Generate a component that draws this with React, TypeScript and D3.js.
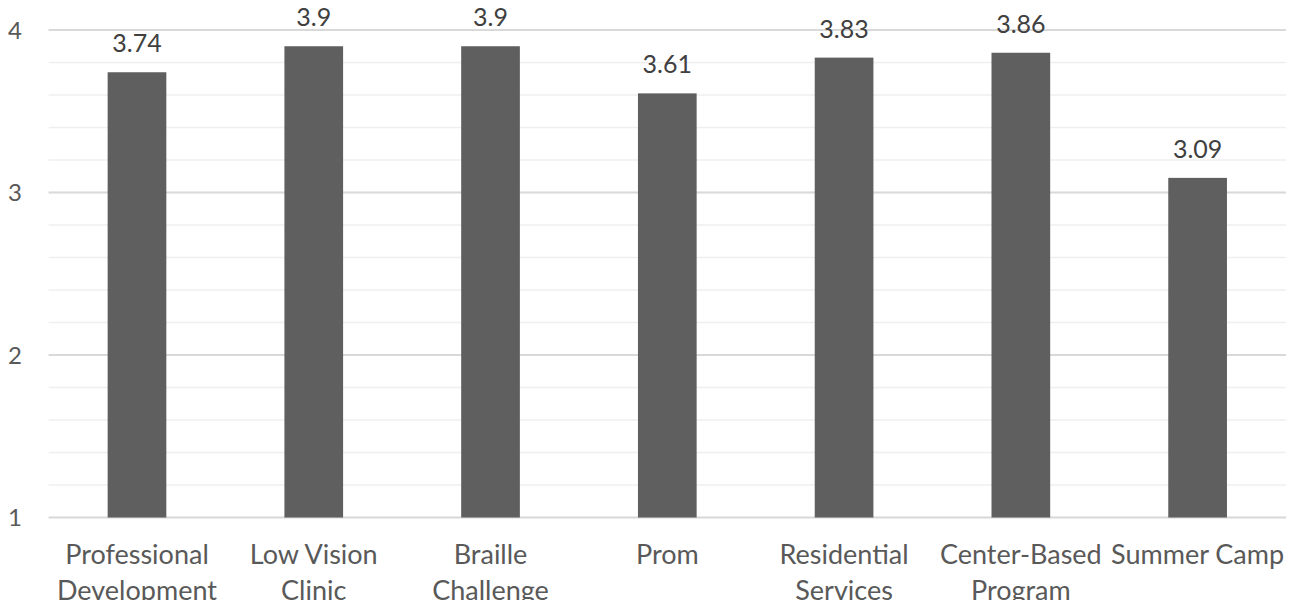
import React from "react";
import * as d3 from "d3";

const categories: string[][] = [
  ["Professional", "Development"],
  ["Low Vision", "Clinic"],
  ["Braille", "Challenge"],
  ["Prom"],
  ["Residential", "Services"],
  ["Center-Based", "Program"],
  ["Summer Camp"],
];
const values: number[] = [3.74, 3.9, 3.9, 3.61, 3.83, 3.86, 3.09];
const majorTicks: number[] = [1, 2, 3, 4];
const minorTicks: number[] = d3.range(1, 4.0001, 0.2);

export default function App() {
  const W = 1292;
  const H = 600;
  const left = 48.6;
  const right = 1286;
  const top = 30;
  const bottom = 517.5;
  const x = d3
    .scaleBand<number>()
    .domain(values.map((_, i) => i))
    .range([left, right])
    .paddingInner(0.668)
    .paddingOuter(0.334);
  const y = d3.scaleLinear().domain([1, 4]).range([bottom, top]);
  const font = "Lato, 'Open Sans', sans-serif";
  return (
    <svg
      width={W}
      height={H}
      style={{ position: "absolute", left: 0, top: 0, background: "#fff" }}
    >
      {minorTicks.map((t, i) => (
        <line
          key={"m" + i}
          x1={left}
          x2={right}
          y1={y(t)}
          y2={y(t)}
          stroke="#efefef"
          strokeWidth={1.5}
        />
      ))}
      {majorTicks.map((t) => (
        <line
          key={"M" + t}
          x1={left}
          x2={right}
          y1={y(t)}
          y2={y(t)}
          stroke="#d9d9d9"
          strokeWidth={2.2}
        />
      ))}
      {majorTicks.map((t) => (
        <text
          key={"t" + t}
          x={22}
          y={y(t)}
          dy="0.36em"
          textAnchor="end"
          fontFamily={font}
          fontSize={24}
          fill="#595959"
        >
          {t}
        </text>
      ))}
      {values.map((v, i) => (
        <g key={"b" + i}>
          <rect
            x={x(i)}
            y={y(v)}
            width={x.bandwidth()}
            height={y(1) - y(v)}
            fill="#5f5f5f"
          />
          <text
            x={(x(i) as number) + x.bandwidth() / 2}
            y={y(v) - 20}
            textAnchor="middle"
            fontFamily={font}
            fontSize={25}
            fill="#404040"
          >
            {v}
          </text>
        </g>
      ))}
      {categories.map((lines, i) => (
        <text
          key={"c" + i}
          x={(x(i) as number) + x.bandwidth() / 2}
          y={564}
          textAnchor="middle"
          fontFamily={font}
          fontSize={27}
          fill="#595959"
        >
          {lines.map((l, j) => (
            <tspan key={j} x={(x(i) as number) + x.bandwidth() / 2} dy={j === 0 ? 0 : 36}>
              {l}
            </tspan>
          ))}
        </text>
      ))}
    </svg>
  );
}
